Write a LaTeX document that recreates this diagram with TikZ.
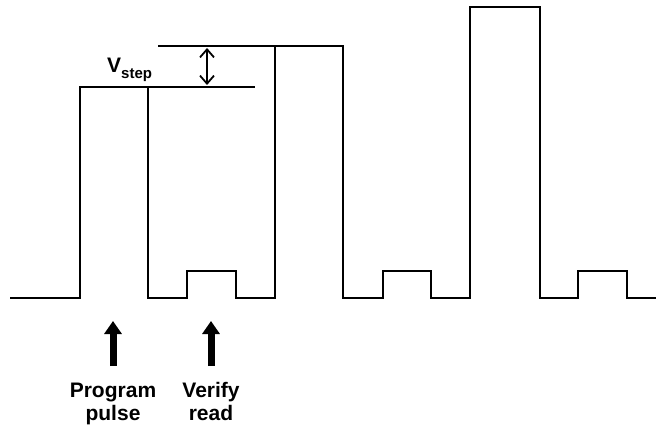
\documentclass[tikz,border=0pt]{standalone}
\usepackage{fontspec}
\setmainfont{Liberation Sans}
\usetikzlibrary{arrows.meta}
\tikzset{
  wave/.style={line width=1.3pt, black, line join=miter},
  bigarrow/.style={line width=7pt, -{Triangle[width=17pt,length=13pt]}},
  steparrow/.style={line width=1.8pt, {Straight Barb[width=14pt,length=8pt,line width=1.8pt]}-{Straight Barb[width=14pt,length=8pt,line width=1.8pt]}},
  lbl/.style={font=\fontsize{21}{24}\selectfont\bfseries, inner sep=0pt, anchor=base}
}
\begin{document}
\begin{tikzpicture}[x=1pt,y=-1pt]
\useasboundingbox (0,0) rectangle (660,425);
% waveform
\draw[wave] (10,298) -- (80,298) -- (80,87) -- (148,87) -- (148,298) -- (187,298) -- (187,271) -- (236,271) -- (236,298)
  -- (275,298) -- (275,46) -- (343,46) -- (343,298) -- (383,298) -- (383,271) -- (431,271) -- (431,298)
  -- (470,298) -- (470,7) -- (540,7) -- (540,298) -- (578,298) -- (578,271) -- (627,271) -- (627,298) -- (656,298);
% reference level lines
\draw[wave] (148,87) -- (255,87);
\draw[wave] (158,46) -- (275,46);
% Vstep arrow
\coordinate (s1) at (207,48);
\coordinate (s2) at (207,85);
\draw[steparrow] (s1) -- (s2);
\node[inner sep=0pt, anchor=base west] (vstep) at (107,73) {\bfseries\fontsize{21}{24}\selectfont V\raisebox{-6pt}{\fontsize{15}{17}\selectfont\bfseries step}};
% labels
\node[lbl] (prog) at (113,397) {Program};
\node[lbl] (pulse) at (113,420) {pulse};
\node[lbl] (ver) at (211,397) {Verify};
\node[lbl] (read) at (211,420) {read};
\coordinate (a1s) at (113,366);
\coordinate (a1e) at (113,321);
\coordinate (a2s) at (211,366);
\coordinate (a2e) at (211,321);
\draw[bigarrow] (a1s) -- (a1e);
\draw[bigarrow] (a2s) -- (a2e);
\end{tikzpicture}
\end{document}
